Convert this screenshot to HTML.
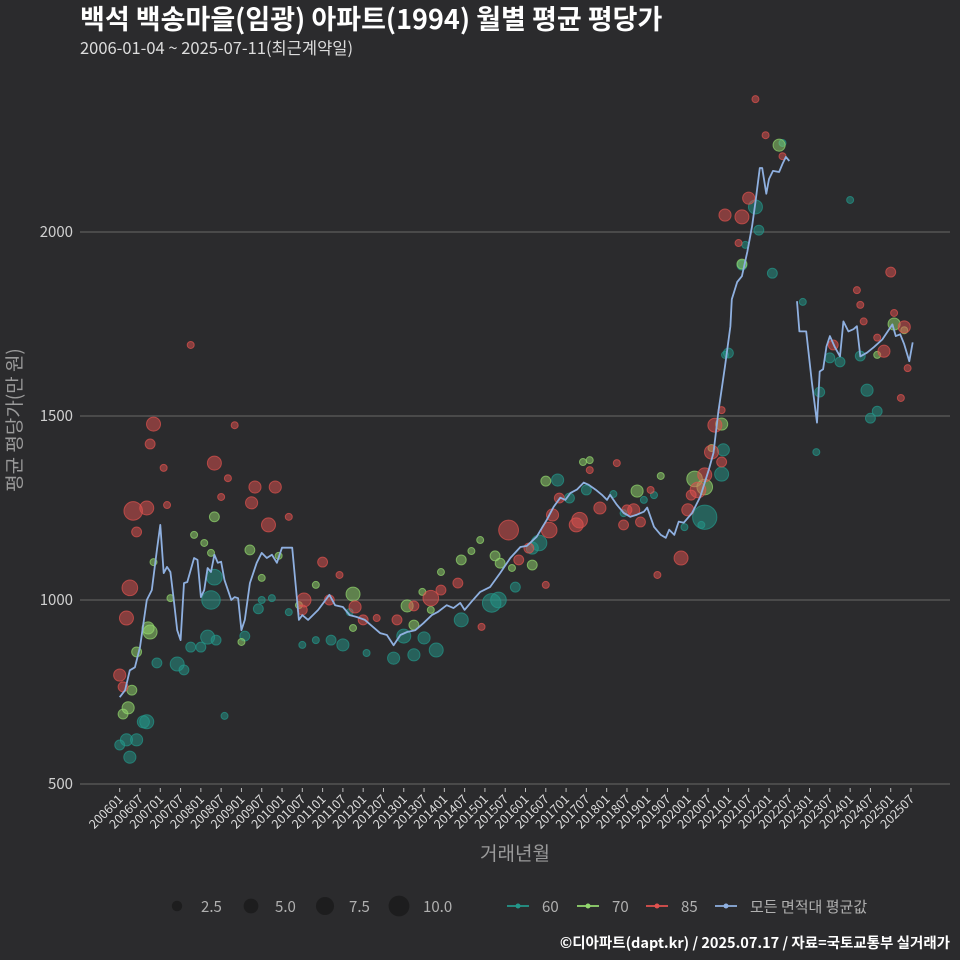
<!DOCTYPE html>
<html><head><meta charset="utf-8">
<style>
html,body{margin:0;padding:0;background:#2b2b2d;}
svg{display:block;font-family:"Noto Sans CJK KR","Liberation Sans",sans-serif;}
</style></head>
<body>
<svg id="chart" width="960" height="960" viewBox="0 0 960 960">
<rect width="960" height="960" fill="#2b2b2d"/>
<text x="80" y="29" fill="#ffffff" font-size="27" font-weight="bold">백석 백송마을(임광) 아파트(1994) 월별 평균 평당가</text>
<text x="80" y="54" fill="#dddddd" font-size="16.5">2006-01-04 ~ 2025-07-11(최근계약일)</text>
<g id="grid"></g>
<g id="yticks"></g>
<g id="xticks"></g>
<g id="points"></g>
<g id="line"></g>
<text transform="translate(21,420) rotate(-90)" text-anchor="middle" fill="#9a9a9a" font-size="19">평균 평당가(만 원)</text>
<text x="515" y="860" text-anchor="middle" fill="#9a9a9a" font-size="19">거래년월</text>
<g id="legend"></g>
<text x="950" y="948" text-anchor="end" fill="#ffffff" font-size="14.5" font-weight="bold">©디아파트(dapt.kr) / 2025.07.17 / 자료=국토교통부 실거래가</text>
</svg>
<script>
const yTicks = [500, 1000, 1500, 2000];
const xTickLabels = [];
for (let y = 2006; y <= 2025; y++) { xTickLabels.push(y + "01"); xTickLabels.push(y + "07"); }
// average line: month index (0 = 2006-01), value; null = gap
const lineMonths = [0,1.6,3,4.5,6,8,9.5,11,12,13,14,15,16,17,18,19,20,22,23,24,25,26,27,28,29,30,31,33,34,35,36,37,38.5,40.5,42,43.5,45,46.5,48,51,53,54,55.7,58.7,62,63.7,66,68,70,72.5,75,77,79,81,83,85,87.4,89.8,92.3,94,96.7,98.7,100.7,102,104,106.6,109.5,112.5,115.5,118.5,120.4,123.3,126.3,128.3,130.3,131.8,133.3,135.2,137.2,138.7,140.7,142.6,144.1,145,147,149,151,153,155,156,158,160,161.5,162.5,164,165.3,166.8,169.3,171.7,174.2,175.6,177,179,180.6,181,182.6,184,185.6,187,188,189.3,190,191.2,192,193.2,195,196,197,198,199,200.3,201,203,204.7,206.2,207,208,209,210,211.5,213,214,215.5,217,218,219,221,223,225.5,228.5,229.5,230.8,232,233.5,234.5];
const lineValues = [736,755,809,817,872,1000,1027,1136,1204,1073,1090,1076,1000,918,891,1046,1049,1114,1109,1008,1027,1087,1076,1123,1101,1104,1054,1000,1008,1005,918,946,1046,1101,1128,1114,1123,1101,1142,1142,946,959,946,973,1014,986,981,959,954,946,926,910,905,877,905,913,918,937,959,967,986,978,992,973,995,1022,1035,1073,1114,1144,1147,1172,1218,1253,1278,1272,1291,1300,1319,1313,1300,1286,1272,1286,1259,1237,1226,1232,1240,1251,1199,1177,1169,1191,1177,1213,1210,1237,1281,1354,1400,1510,1635,1744,1817,1864,1880,1946,2016,2082,2174,2174,2104,2144,2166,2163,2185,2204,2193,null,1812,1730,1730,1591,1482,1621,1627,1689,1717,1687,1662,1757,1730,1736,1744,1662,1672,1687,1708,1749,1717,1722,1695,1649,1700];
// scatter: [month, value, count]
const pts60 = [[0,606,2],[2,620,3],[3,573,3],[5,620,3],[7,669,3],[8,669,4],[11,829,2],[17,826,4],[19,810,2],[21,872,2],[24,872,2],[26,899,4],[27,1000,7],[28,1062,5],[28.5,891,2],[31,685,1],[37,902,2],[41,976,2],[42,1000,1],[45,1005,1],[50,967,1],[54,878,1],[58,891,1],[62.5,891,2],[66,878,3],[68,967,1],[73,856,1],[81,842,3],[84,902,4],[87,851,3],[90,897,3],[93.6,864,4],[101,946,4],[110,992,7],[112,1000,5],[117,1035,2],[122,1141,3],[124,1155,5],[129.5,1326,3],[133,1277,2],[138,1299,2],[146,1288,1],[149,1236,1],[155,1272,1],[158,1285,1],[167,1198,1],[172,1204,1],[173,1225,12],[178,1342,4],[178.5,1408,3],[179,1666,1],[180,1671,2],[184,1910,2],[185,1965,1],[188,2068,4],[189,2005,2],[193,1888,2],[196,2242,1],[202,1810,1],[206,1402,1],[207,1565,2],[210,1658,2],[213,1647,2],[216,2087,1],[221,1570,3],[222,1494,2],[224,1513,2],[219,1663,2]];
const pts70 = [[1,690,2],[2.5,707,3],[3.6,755,2],[5,859,2],[8.4,924,3],[9,913,4],[10,1103,1],[15,1005,1],[22,1177,1],[25,1155,1],[28,1226,2],[27,1128,1],[36,886,1],[38.5,1136,2],[42,1060,1],[47,1120,1],[53,986,1],[58,1041,1],[69,1016,4],[69,924,1],[85,984,3],[87,932,2],[89.5,1022,1],[92,973,1],[95,1076,1],[101,1109,2],[104,1133,1],[106.6,1163,1],[111,1120,2],[112.5,1100,2],[116,1087,1],[122,1095,2],[126,1323,2],[137,1375,1],[139,1380,1],[153,1296,3],[160,1337,1],[170,1329,5],[173,1307,5],[175,1413,1],[178,1478,3],[184,1913,2],[195,2236,3],[229,1750,3],[224,1666,1],[232,1733,1]];
const pts85 = [[0,796,3],[1,764,2],[2,951,4],[3,1033,5],[4,1242,7],[5,1185,2],[8,1250,4],[9,1424,2],[10,1478,4],[13,1359,1],[14,1258,1],[21,1693,1],[28,1372,4],[30,1280,1],[32,1331,1],[34,1475,1],[39,1264,3],[40,1307,3],[44,1204,4],[46,1307,3],[50,1226,1],[54.5,1000,4],[54,973,2],[60,1103,2],[65,1068,1],[62,1000,2],[69.6,981,3],[72,946,2],[76,951,1],[82,946,2],[87,984,2],[92,1005,5],[95,1027,2],[100,1046,2],[107,927,1],[115,1190,8],[118,1109,2],[121,1141,2],[126,1041,1],[127,1190,5],[128,1231,3],[135,1204,4],[136,1217,5],[130,1277,2],[139,1353,1],[142,1250,3],[147,1372,1],[149,1204,2],[150,1245,2],[152,1245,3],[154,1212,2],[157,1299,1],[159,1068,1],[166,1114,4],[168,1245,3],[169,1285,2],[171,1299,5],[173,1340,4],[175,1402,4],[176,1475,4],[178,1516,1],[178,1375,2],[179,2046,3],[184,2041,4],[186,2092,3],[183,1970,1],[188,2361,1],[191,2263,1],[196,2206,1],[211,1693,2],[218,1842,1],[219,1802,1],[220,1757,1],[224,1713,1],[226,1676,3],[228,1891,2],[229,1780,1],[231,1549,1],[232,1742,3],[233,1630,1]];

const NS = "http://www.w3.org/2000/svg";
const X0 = 119.7, MPX = 20.29 / 6, Y1000 = 600, PPU = 184 / 500;
function xScale(m) { return X0 + m * MPX; }
function yScale(v) { return Y1000 - (v - 1000) * PPU; }
function rScale(n) { return 3.5 * Math.sqrt(n); }
function mk(tag, attrs, parent) {
  const e = document.createElementNS(NS, tag);
  for (const k in attrs) e.setAttribute(k, attrs[k]);
  parent.appendChild(e);
  return e;
}
const grid = document.getElementById('grid');
const yt = document.getElementById('yticks');
yTicks.forEach(v => {
  const l = mk('line', {x1: 80, x2: 950, y1: yScale(v), y2: yScale(v), stroke: '#5c5c5c', 'stroke-width': 1.2}, grid);
  
  
  const t = mk('text', {x: 73, y: yScale(v) + 5, 'text-anchor': 'end', fill: '#d0d0d0', 'font-size': 15}, yt);
  t.textContent = v;
  
  
});
const xt = document.getElementById('xticks');
xTickLabels.forEach((lab, i) => {
  const x = xScale(i * 6);
  const tk = mk('line', {x1: x, x2: x, y1: 788, y2: 792, stroke: '#bbbbbb', 'stroke-width': 1}, xt);
  
  
  const t = mk('text', {x: x + 4, y: 800, 'text-anchor': 'end', fill: '#dddddd', 'font-size': 12.5, transform: 'rotate(-45 ' + (x + 4) + ' 800)'}, xt);
  t.textContent = lab;
  
  
});
const pg = document.getElementById('points');
const series = [[pts60, '#23978a', '60'], [pts70, '#93d86e', '70'], [pts85, '#e0524f', '85']];
series.forEach(([arr, col, nm]) => {
  arr.forEach(p => {
    const c = mk('circle', {cx: xScale(p[0]), cy: yScale(p[1]), r: rScale(p[2]), fill: col, 'fill-opacity': 0.5, stroke: col, 'stroke-opacity': 0.7, 'stroke-width': 1}, pg);
    
    
  });
});
const lg = document.getElementById('line');
let segs = [], cur = [];
lineMonths.forEach((m, i) => {
  const v = lineValues[i];
  if (v === null) { if (cur.length) segs.push(cur); cur = []; }
  else cur.push(xScale(m).toFixed(1) + ',' + yScale(v).toFixed(1));
});
if (cur.length) segs.push(cur);
segs.forEach(s => {
  const pl = mk('polyline', {points: s.join(' '), fill: 'none', stroke: '#8fb0e0', 'stroke-width': 1.8, 'stroke-linejoin': 'round'}, lg);
  
  
});
const leg = document.getElementById('legend');
const sizeKeys = [2.5, 5.0, 7.5, 10.0];
const sizeX = [177, 251, 325, 399];
sizeKeys.forEach((n, i) => {
  const c = mk('circle', {cx: sizeX[i], cy: 906, r: 3.3 * Math.sqrt(n), fill: '#1a1a1a', 'fill-opacity': 0.8}, leg);
  
  
  const t = mk('text', {x: sizeX[i] + 24, y: 912, fill: '#b0b0b0', 'font-size': 15}, leg);
  t.textContent = n.toFixed(1);
  
  
});
const colKeys = [['60', '#23978a', 518], ['70', '#93d86e', 588], ['85', '#e0524f', 657], ['모든 면적대 평균값', '#8fb0e0', 726]];
colKeys.forEach(([lab, col, x]) => {
  const l = mk('line', {x1: x - 11, x2: x + 11, y1: 906, y2: 906, stroke: col, 'stroke-width': 1.8}, leg);
  
  
  const c = mk('circle', {cx: x, cy: 906, r: 2.5, fill: col}, leg);
  
  
  const t = mk('text', {x: x + 24, y: 912, fill: '#b0b0b0', 'font-size': 15}, leg);
  t.textContent = lab;
  
  
});
</script>
</body></html>
